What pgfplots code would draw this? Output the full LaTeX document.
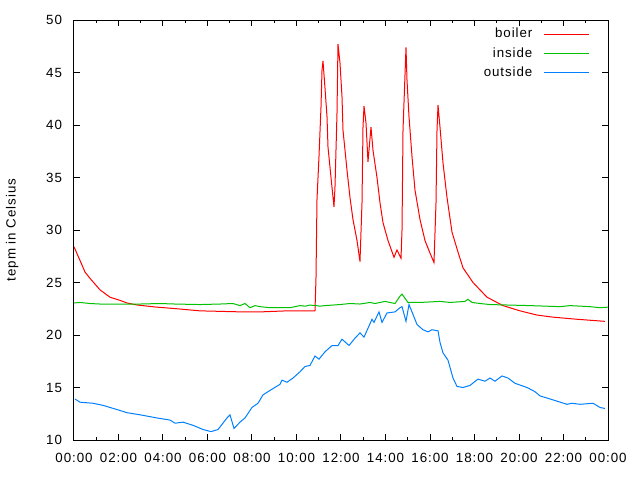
\documentclass[border=0pt]{standalone}
\usepackage{fontspec}
\setmainfont{Liberation Sans}[LetterSpace=7]
\usepackage{pgfplots}
\pgfplotsset{compat=1.18}
\definecolor{gpred}{RGB}{255,0,0}
\definecolor{gpgreen}{RGB}{0,192,0}
\definecolor{gpblue}{RGB}{0,128,255}
\pgfplotsset{gplegend/.style={legend image code/.code={\draw[#1] (0pt,0pt) -- (33.75pt,0pt);}}}
\begin{document}
\begin{tikzpicture}[font=\fontsize{10}{12}\selectfont]
\path[use as bounding box] (-55.5pt,-30pt) rectangle (424.5pt,330pt);
\begin{axis}[
  at={(0,0)}, anchor=south west,
  scale only axis, width=400.5pt, height=315pt,
  xmin=0, xmax=24, ymin=10, ymax=50,
  xtick={0,2,...,24},
  xticklabels={00:00,02:00,04:00,06:00,08:00,10:00,12:00,14:00,16:00,18:00,20:00,22:00,00:00},
  minor xtick={1,3,...,23},
  ytick={10,15,...,50},
  tick align=inside,
  major tick length=4.5pt, minor tick length=2.5pt,
  axis line style={line width=0.75pt},
  every tick/.style={black, line width=0.75pt},
  /pgf/number format/assume math mode=true,
  ticklabel style={font=\fontsize{10}{12}\selectfont},
  xticklabel style={yshift=-6.5pt},
  yticklabel style={xshift=-5.5pt},
  ylabel={tepm in Celsius},
  every axis y label/.style={at={(axis description cs:-0.116,0.5)}, rotate=90, anchor=center, yshift=0pt},
  gplegend,
  legend cell align=right,
  legend plot pos=right,
  legend style={draw=none, fill=none, at={(axis description cs:1,1)}, anchor=north east,
    xshift=-11pt, yshift=-2pt, row sep=1.6pt, font=\fontsize{10}{12}\selectfont,
    /tikz/every odd column/.append style={column sep=6pt}},
  every axis plot/.append style={line width=0.75pt, mark=none},
]
\addplot[gpred] coordinates {
(0.000,28.4) (0.270,27.1) (0.494,26.0) (0.719,25.4) (1.169,24.3) (1.618,23.6) (2.067,23.3) (2.382,23.05) (2.831,22.86) (3.640,22.67) (4.629,22.5) (5.663,22.3) (7.551,22.2) (8.360,22.2) (9.573,22.3) (10.831,22.3)
(10.876,25.4) (10.921,32.9) (11.011,37.0) (11.101,41.7) (11.146,45.2) (11.191,46.1) (11.281,43.5) (11.371,40.8) (11.416,37.9) (11.551,35.0) (11.685,32.2) (11.730,34.1) (11.820,41.1) (11.865,47.7) (11.955,45.9) (12.045,42.7) (12.090,39.5) (12.270,35.7) (12.404,33.1) (12.539,31.0) (12.719,29.0) (12.854,27.0) (12.944,32.6) (12.989,39.8) (13.034,41.8) (13.124,40.2) (13.213,36.5) (13.348,39.8) (13.438,37.6) (13.618,35.0) (13.753,32.6) (13.888,30.7) (14.112,29.0) (14.382,27.4) (14.517,28.1) (14.697,27.3) (14.742,30.0) (14.787,39.5) (14.921,47.4) (14.966,44.3) (15.056,40.8) (15.191,37.0) (15.326,33.8) (15.551,31.0) (15.775,29.0) (16.000,27.8) (16.180,26.9) (16.270,32.6) (16.315,39.5) (16.360,41.9) (16.449,39.8) (16.584,36.4) (16.764,33.1) (16.989,29.8) (17.258,27.9) (17.483,26.4) (17.933,25.0) (18.562,23.6) (19.281,22.8) (20.045,22.3) (20.809,21.9) (21.528,21.7) (22.607,21.5) (23.865,21.3)
};
\addlegendentry{boiler}
\addplot[gpgreen] coordinates {
(0.000,23.05) (0.270,23.1) (0.719,23.0) (1.169,22.95) (2.966,22.95) (3.865,23.0) (4.539,22.95) (5.663,22.9) (6.562,22.95) (7.146,23.0) (7.461,22.8) (7.685,23.0) (7.910,22.6) (8.135,22.8) (8.360,22.7) (8.809,22.6) (9.708,22.6) (10.157,22.8) (10.382,22.75) (10.607,22.85) (10.876,22.8) (11.056,22.75) (11.281,22.8) (11.955,22.9) (12.404,23.0) (12.854,22.95) (13.303,23.1) (13.528,23.0) (13.978,23.2) (14.202,23.1) (14.427,23.0) (14.652,23.7) (14.742,23.9) (14.876,23.5) (15.011,23.1) (15.551,23.1) (16.449,23.2) (16.899,23.1) (17.573,23.2) (17.708,23.4) (17.888,23.1) (18.247,23.0) (18.697,22.9) (19.596,22.85) (20.494,22.8) (21.843,22.7) (22.292,22.8) (23.191,22.7) (23.640,22.6) (24.000,22.65)
};
\addlegendentry{inside}
\addplot[gpblue] coordinates {
(0.045,13.9) (0.270,13.6) (0.854,13.5) (1.303,13.3) (1.933,12.9) (2.382,12.6) (2.966,12.4) (3.730,12.1) (4.315,11.9) (4.539,11.6) (4.899,11.7) (5.348,11.4) (5.798,11.0) (6.157,10.8) (6.472,11.0) (6.876,12.1) (7.011,12.4) (7.191,11.1) (7.461,11.7) (7.685,12.1) (8.000,13.1) (8.270,13.5) (8.494,14.3) (8.944,14.9) (9.258,15.3) (9.348,15.7) (9.573,15.5) (9.843,15.9) (10.157,16.5) (10.382,17.0) (10.607,17.1) (10.831,18.0) (11.011,17.7) (11.281,18.4) (11.596,19.0) (11.865,19.0) (12.045,19.6) (12.360,19.0) (12.629,19.7) (12.854,20.2) (13.034,19.8) (13.393,21.5) (13.483,21.2) (13.708,22.2) (13.843,21.2) (14.067,22.1) (14.427,22.2) (14.652,22.6) (14.742,22.7) (14.921,21.3) (15.056,22.9) (15.191,22.2) (15.416,21.0) (15.685,20.5) (15.910,20.3) (16.090,20.5) (16.360,20.4) (16.449,19.3) (16.584,18.3) (16.809,17.6) (17.034,15.9) (17.213,15.1) (17.483,15.0) (17.798,15.2) (18.157,15.8) (18.472,15.6) (18.697,15.9) (18.921,15.6) (19.236,16.1) (19.506,15.9) (19.820,15.4) (20.360,15.0) (20.719,14.6) (20.944,14.2) (21.258,14.0) (21.708,13.7) (22.157,13.4) (22.382,13.5) (22.742,13.4) (23.326,13.5) (23.640,13.1) (23.865,13.0)
};
\addlegendentry{outside}
\end{axis}
\end{tikzpicture}
\end{document}
